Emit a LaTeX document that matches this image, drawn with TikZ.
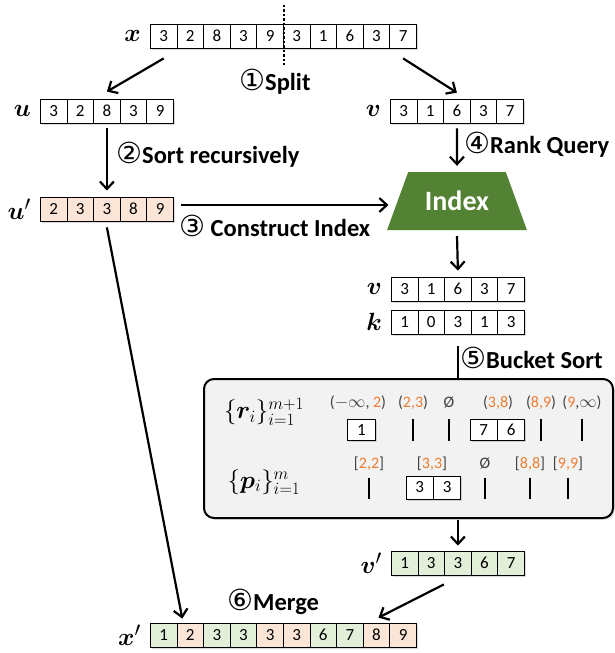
\documentclass[tikz,border=0pt]{standalone}
\usepackage{fontspec}
\setmainfont{Carlito}
\newfontfamily\circfont{DejaVu Sans}
\usepackage{bm}
\usetikzlibrary{arrows.meta,positioning,shapes.geometric,shadows}
\definecolor{cellorange}{RGB}{251,229,214}
\definecolor{cellgreen}{RGB}{226,240,217}
\definecolor{indexgreen}{RGB}{84,130,53}
\definecolor{boxgray}{RGB}{242,242,242}
\definecolor{rangeorange}{RGB}{237,125,49}
\definecolor{rangegray}{RGB}{64,64,64}
\newcommand{\orng}[1]{\textcolor{rangeorange}{#1}}
\newcommand{\stepno}[1]{{\circfont\mdseries\fontsize{29}{29}\selectfont #1}}
\tikzset{
  cellbox/.style={draw, line width=0.8pt, fill=white, anchor=west, minimum width=26.6pt, minimum height=24pt, inner sep=0pt, font=\fontsize{17}{19}\selectfont, drop shadow={shadow xshift=1.5pt, shadow yshift=-1.5pt, opacity=0.3}},
  veclabel/.style={inner sep=1pt, font=\fontsize{28}{30}\selectfont},
  steptext/.style={anchor=west, inner sep=0pt, font=\fontsize{24.5}{26}\selectfont\bfseries},
  flowarrow/.style={-{Straight Barb[length=7.5pt,width=14pt]}, line width=2.2pt},
  flowline/.style={line width=2.2pt},
  splitline/.style={line width=2pt, dash pattern=on 2.5pt off 2pt},
  indexshape/.style={trapezium, trapezium left angle=60, trapezium right angle=60, trapezium stretches=true, minimum width=140pt, minimum height=58pt, fill=indexgreen, text=white, font=\fontsize{28}{30}\selectfont\bfseries},
  bucketbox/.style={draw, line width=2pt, rounded corners=10pt, fill=boxgray, anchor=north west, minimum width=409pt, minimum height=139pt, drop shadow={shadow xshift=2pt, shadow yshift=-2pt, opacity=0.2}},
  setlabel/.style={font=\fontsize{26}{28}\selectfont},
  rangetext/.style={inner sep=0pt, text=rangegray, font=\fontsize{16}{18}\selectfont},
  emptybucket/.style={line width=1.3pt}
}

\begin{document}
\begin{tikzpicture}[x=1pt, y=-1pt]
\useasboundingbox (0,0) rectangle (615,653);

% input array and the split
\foreach \val [count=\i] in {3,2,8,3,9,3,1,6,3,7}
  \node[cellbox] (x\i) at ({150+26.6*(\i-1)},36) {\val};
\node[veclabel, left=8pt of x1] (xlabel) {$\bm{x}$};
\draw[splitline] ([yshift=19pt]x5.north east) -- ([yshift=-17pt]x5.south east);
\node[steptext] (splitstep) at (239,82) {\stepno{①}Split};

% the two halves
\foreach \val [count=\i] in {3,2,8,3,9}
  \node[cellbox] (u\i) at ({40+26.6*(\i-1)},111) {\val};
\node[veclabel, left=8pt of u1] (ulabel) {$\bm{u}$};
\foreach \val [count=\i] in {3,1,6,3,7}
  \node[cellbox] (v\i) at ({390+26.6*(\i-1)},111) {\val};
\node[veclabel, left=8pt of v1] (vlabel) {$\bm{v}$};
\draw[flowarrow] ([yshift=-10pt]x1.south) -- ([yshift=7pt]u3.north);
\draw[flowarrow] ([yshift=-10pt]x10.south) -- ([yshift=6pt]v3.north);

% sorted left half and the index
\foreach \val [count=\i] in {2,3,3,8,9}
  \node[cellbox, fill=cellorange] (us\i) at ({40+26.6*(\i-1)},209) {\val};
\node[veclabel, left=8pt of us1] (uslabel) {$\bm{u}'$};
\draw[flowarrow] ([yshift=-5pt]u3.south) -- ([yshift=6pt]us3.north);
\node[steptext] (sortstep) at (116,155) {\stepno{②}Sort recursively};

\node[indexshape] (index) at (457,201) {Index};
\draw[flowarrow] ([xshift=7pt,yshift=4pt]us5.east) -- ([xshift=-9pt,yshift=4pt]us5.east -| index.west);
\node[steptext] (buildstep) at (179,226) {\stepno{③} Construct Index};
\draw[flowarrow] ([yshift=-5pt]v3.south) -- ([yshift=6pt]index.north);
\node[steptext] (rankstep) at (464,145) {\stepno{④}Rank Query};

% ranks of v
\foreach \val [count=\i] in {3,1,6,3,7}
  \node[cellbox] (vq\i) at ({391+26.6*(\i-1)},289) {\val};
\node[veclabel, left=8pt of vq1] (vqlabel) {$\bm{v}$};
\foreach \val [count=\i] in {1,0,3,1,3}
  \node[cellbox] (k\i) at ({391+26.6*(\i-1)},322) {\val};
\node[veclabel, left=8pt of k1] (klabel) {$\bm{k}$};
\draw[flowarrow] ([yshift=-6pt]index.south) -- ([yshift=6pt]vq3.north);

% bucket sort
\node[bucketbox] (bucket) at (203,378) {};
\draw[flowline] ([yshift=-12pt]k3.south) -- (k3.south |- bucket.north);
\node[steptext] (bucketstep) at (460,358) {\stepno{⑤}Bucket Sort};

\node[setlabel] (rset) at (264,412) {$\{\bm{r}_i\}_{i=1}^{m+1}$};
\node[setlabel] (pset) at (264,482) {$\{\bm{p}_i\}_{i=1}^{m}$};

\node[rangetext] (r1) at (358,403) {($-\infty$, \orng{2})};
\node[rangetext] (r2) at (413,403) {(\orng{2,3})};
\node[rangetext] (r3) at (449,403) {Ø};
\node[rangetext] (r4) at (498,403) {(\orng{3,8})};
\node[rangetext] (r5) at (541,403) {(\orng{8,9})};
\node[rangetext] (r6) at (582,403) {(\orng{9},$\infty$)};
\node[cellbox, minimum width=28pt, minimum height=21pt] (rb1) at (347,430) {1};
\node[cellbox, minimum height=21pt] (rb4a) at (470,430) {7};
\node[cellbox, minimum height=21pt, right=0pt of rb4a] (rb4b) {6};
\draw[emptybucket] (r2.south |- rb1.north) -- (r2.south |- rb1.south);
\draw[emptybucket] (r3.south |- rb1.north) -- (r3.south |- rb1.south);
\draw[emptybucket] (r5.south |- rb1.north) -- (r5.south |- rb1.south);
\draw[emptybucket] (r6.south |- rb1.north) -- (r6.south |- rb1.south);

\node[rangetext] (p1) at (369,464) {[\orng{2,2}]};
\node[rangetext] (p2) at (432,464) {[\orng{3,3}]};
\node[rangetext] (p3) at (485,464) {Ø};
\node[rangetext] (p4) at (530,464) {[\orng{8,8}]};
\node[rangetext] (p5) at (568,464) {[\orng{9,9}]};
\node[cellbox, minimum height=23pt] (pb2a) at (406,487.5) {3};
\node[cellbox, minimum height=23pt, right=0pt of pb2a] (pb2b) {3};
\draw[emptybucket] ([yshift=-2pt]p1.south |- pb2a.north) -- (p1.south |- pb2a.south);
\draw[emptybucket] ([yshift=-2pt]p3.south |- pb2a.north) -- (p3.south |- pb2a.south);
\draw[emptybucket] ([yshift=-2pt]p4.south |- pb2a.north) -- (p4.south |- pb2a.south);
\draw[emptybucket] ([yshift=-2pt]p5.south |- pb2a.north) -- (p5.south |- pb2a.south);

% sorted right half and merge
\foreach \val [count=\i] in {1,3,3,6,7}
  \node[cellbox, fill=cellgreen] (vs\i) at ({391+26.6*(\i-1)},563) {\val};
\node[veclabel, left=8pt of vs1] (vslabel) {$\bm{v}'$};
\draw[flowarrow] ([yshift=-1pt]bucket.south -| vs3.north) -- ([yshift=5pt]vs3.north);

\foreach \val/\col [count=\i] in {1/cellgreen,2/cellorange,3/cellgreen,3/cellgreen,3/cellorange,3/cellorange,6/cellgreen,7/cellgreen,8/cellorange,9/cellorange}
  \node[cellbox, fill=\col] (xs\i) at ({150+26.6*(\i-1)},635) {\val};
\node[veclabel, left=8pt of xs1] (xslabel) {$\bm{x}'$};
\draw[flowarrow] ([yshift=-6pt]us3.south) -- ([xshift=-8pt,yshift=4pt]xs2.north);
\draw[flowarrow] ([xshift=-14pt,yshift=-9pt]vs3.south) -- ([xshift=2pt,yshift=5pt]xs9.north);
\node[steptext] (mergestep) at (227,602) {\stepno{⑥}Merge};
\end{tikzpicture}
\end{document}
